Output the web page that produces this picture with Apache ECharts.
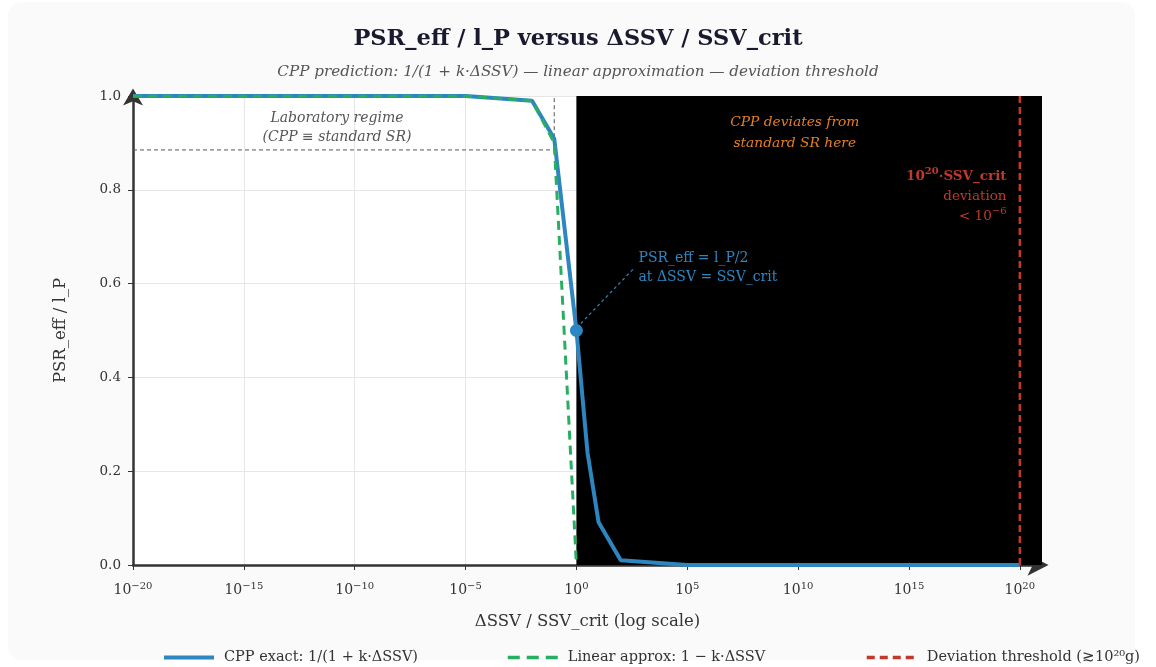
<!DOCTYPE html>
<html>
<head>
<meta charset="utf-8">
<script src="https://cdn.jsdelivr.net/npm/echarts@6/dist/echarts.min.js"></script>
<style>
html,body{margin:0;padding:0;background:#fff;width:1156px;height:667px;overflow:hidden;}
#card{position:absolute;left:8px;top:2px;width:1127px;height:658px;background:#fafafa;border-radius:14px;}
#chart{position:absolute;left:0;top:0;width:1156px;height:667px;}
</style>
</head>
<body>
<div id="card"></div>
<div id="chart"></div>
<script>
// ---- data (x values are log10 of ΔSSV / SSV_crit) ----
const exactX = [-20, -15, -10, -5, -2, -1, 0, 0.5, 1, 2, 5, 10, 15, 20];
const exactY = [1, 1, 1, 1, 0.99, 0.909, 0.5, 0.24, 0.091, 0.0099, 0.00001, 0, 0, 0];
const linearX = [-20, -15, -10, -5, -2, -1, 0];
const linearY = [1, 1, 1, 1, 0.99, 0.9, 0];
const thresholdX = [20, 20];
const thresholdY = [0, 1];
const labBoxX = [-20, -1, -1];
const labBoxY = [0.885, 0.885, 1.0];
const deviationStartX = 0;
const halfPoint = [0, 0.5];
const leaderX = [0.2, 2.6];
const leaderY = [0.515, 0.633];
const xTickExps = [-20, -15, -10, -5, 0, 5, 10, 15, 20];
const seriesNames = ['CPP exact: 1/(1 + k·ΔSSV)', 'Linear approx: 1 − k·ΔSSV', 'Deviation threshold (≳10²⁰g)'];

const FONT = "'DejaVu Serif', serif";
const BLUE = '#2e86c1', GREEN = '#27ae60', RED = '#c0392b', ORANGE = '#e67e22';

function zip(xs, ys){ return xs.map((x,i)=>[x, ys[i]]); }

const chart = echarts.init(document.getElementById('chart'), null, {renderer:'canvas'});

const legendBase = {
  top: 650, itemWidth: 50, itemHeight: 14, padding: 0,
  itemStyle: {opacity: 0, color: 'transparent', borderWidth: 0},
  textStyle: {fontFamily: FONT, fontSize: 14.5, color: '#333', padding: [0, 0, 0, 5]}
};

const option = {
  animation: false,
  textStyle: {fontFamily: FONT},
  title: [
    {text: 'PSR_eff / l_P versus ΔSSV / SSV_crit', left: 'center', top: 23,
     textStyle: {fontFamily: FONT, fontSize: 22.5, fontWeight: 'bold', color: '#1a1a2e'}},
    {text: 'CPP prediction: 1/(1 + k·ΔSSV) — linear approximation — deviation threshold', left: 'center', top: 60,
     textStyle: {fontFamily: FONT, fontSize: 15.2, fontStyle: 'italic', fontWeight: 'normal', color: '#555'}}
  ],
  grid: {left: 133, right: 114, top: 96, bottom: 102, show: true, backgroundColor: '#fff', borderWidth: 0},
  legend: [
    Object.assign({}, legendBase, {left: 162, data: [{name: seriesNames[0], lineStyle: {width: 4, type: 'solid'}}]}),
    Object.assign({}, legendBase, {left: 506, data: [{name: seriesNames[1], lineStyle: {width: 3.5, type: [12, 7]}}]}),
    Object.assign({}, legendBase, {left: 865, data: [{name: seriesNames[2], lineStyle: {width: 3.5, type: [8, 5]}}]})
  ],
  xAxis: {
    type: 'value', min: -20, max: 21, interval: 5,
    name: 'ΔSSV / SSV_crit (log scale)', nameLocation: 'middle', nameGap: 48,
    nameTextStyle: {fontFamily: FONT, fontSize: 16.5, color: '#333'},
    axisLine: {show: true, onZero: false, symbol: ['none', 'arrow'], symbolSize: [16, 21], symbolOffset: [0, 6.5],
               lineStyle: {color: '#333', width: 2.5}},
    axisTick: {show: true, length: 5, lineStyle: {color: '#333', width: 1}, customValues: xTickExps},
    axisLabel: {
      customValues: xTickExps, margin: 16, color: '#333',
      formatter: v => '{b|10}{s|' + String(v).replace('-', '−') + '}',
      rich: {b: {fontFamily: FONT, fontSize: 14, color: '#333', lineHeight: 18},
             s: {fontFamily: FONT, fontSize: 10, color: '#333', verticalAlign: 'top', lineHeight: 18, padding: [0,0,8,0]}}
    },
    splitLine: {show: true, lineStyle: {color: '#e6e6e6', width: 1}}
  },
  yAxis: {
    type: 'value', min: 0, max: 1, interval: 0.2,
    name: 'PSR_eff / l_P', nameLocation: 'middle', nameGap: 64,
    nameTextStyle: {fontFamily: FONT, fontSize: 16.5, color: '#333'},
    axisLine: {show: true, onZero: false, symbol: ['none', 'arrow'], symbolSize: [15, 17], symbolOffset: [0, 7.5],
               lineStyle: {color: '#333', width: 2.5}},
    axisTick: {show: true, length: 5, lineStyle: {color: '#333', width: 1}},
    axisLabel: {margin: 12, color: '#333', fontFamily: FONT, fontSize: 13.5,
                formatter: v => v.toFixed(1)},
    splitLine: {show: true, lineStyle: {color: '#e6e6e6', width: 1}}
  },
  series: [
    {
      type: 'line', name: '_region', data: [], z: 1, silent: true,
      markArea: {silent: true, itemStyle: {color: '#000', opacity: 1},
                 data: [[{xAxis: deviationStartX}, {xAxis: 21}]]}
    },
    {
      type: 'line', name: '_labbox', data: zip(labBoxX, labBoxY), z: 2, symbol: 'none', silent: true,
      lineStyle: {color: '#555', width: 1, type: [4, 3]}
    },
    {
      type: 'line', name: seriesNames[0], data: zip(exactX, exactY), z: 3,
      symbol: 'none', lineStyle: {color: BLUE, width: 4}, itemStyle: {color: BLUE},
      markPoint: {symbol: 'circle', symbolSize: 13, itemStyle: {color: BLUE}, label: {show: false},
                  data: [{coord: halfPoint}]}
    },
    {
      type: 'line', name: seriesNames[1], data: zip(linearX, linearY), z: 4,
      symbol: 'none', lineStyle: {color: GREEN, width: 3, type: [9, 6]}, itemStyle: {color: GREEN}
    },
    {
      type: 'line', name: seriesNames[2], data: zip(thresholdX, thresholdY), z: 4,
      symbol: 'none', lineStyle: {color: RED, width: 2.5, type: [7, 4]}, itemStyle: {color: RED}
    },
    {
      type: 'line', name: '_leader', data: zip(leaderX, leaderY), z: 4, symbol: 'none', silent: true,
      lineStyle: {color: BLUE, width: 1.2, type: [3, 3]}
    }
  ]
};
chart.setOption(option);

function px(x, y){ return chart.convertToPixel({gridIndex: 0}, [x, y]); }
const pLab = px(-10.8, 0.932);
const pDev = px(9.85, 0.922);
const pRed = px(19.4, 0.785);
const pBlue = px(2.8, 0.634);
chart.setOption({
  graphic: [
    {type: 'text', x: pLab[0], y: pLab[1], z: 10, style: {text: 'Laboratory regime\n(CPP ≡ standard SR)', align: 'center', verticalAlign: 'middle',
      font: 'italic 14px ' + FONT, fill: '#555', lineHeight: 19}},
    {type: 'text', x: pDev[0], y: pDev[1], z: 10, style: {text: 'CPP deviates from\nstandard SR here', align: 'center', verticalAlign: 'middle',
      font: 'italic 13.8px ' + FONT, fill: ORANGE, lineHeight: 21}},
    {type: 'text', x: pRed[0], y: pRed[1], z: 10, style: {
      text: '{b|10}{bs|20}{b|·SSV_crit}\n{n|deviation}\n{n|< 10}{ns|−6}', align: 'right', verticalAlign: 'middle',
      rich: {b: {fontFamily: FONT, fontSize: 13.5, fontWeight: 'bold', fill: RED, lineHeight: 20},
             bs: {fontFamily: FONT, fontSize: 10, fontWeight: 'bold', fill: RED, lineHeight: 20, verticalAlign: 'top', padding: [0,0,6,0]},
             n: {fontFamily: FONT, fontSize: 13.5, fill: RED, lineHeight: 20},
             ns: {fontFamily: FONT, fontSize: 10, fill: RED, lineHeight: 20, verticalAlign: 'top', padding: [0,0,6,0]}}}},
    {type: 'text', x: pBlue[0], y: pBlue[1], z: 10, style: {text: 'PSR_eff = l_P/2\nat ΔSSV = SSV_crit', align: 'left', verticalAlign: 'middle',
      font: '14px ' + FONT, fill: BLUE, lineHeight: 19}}
  ]
});
</script>
</body>
</html>
